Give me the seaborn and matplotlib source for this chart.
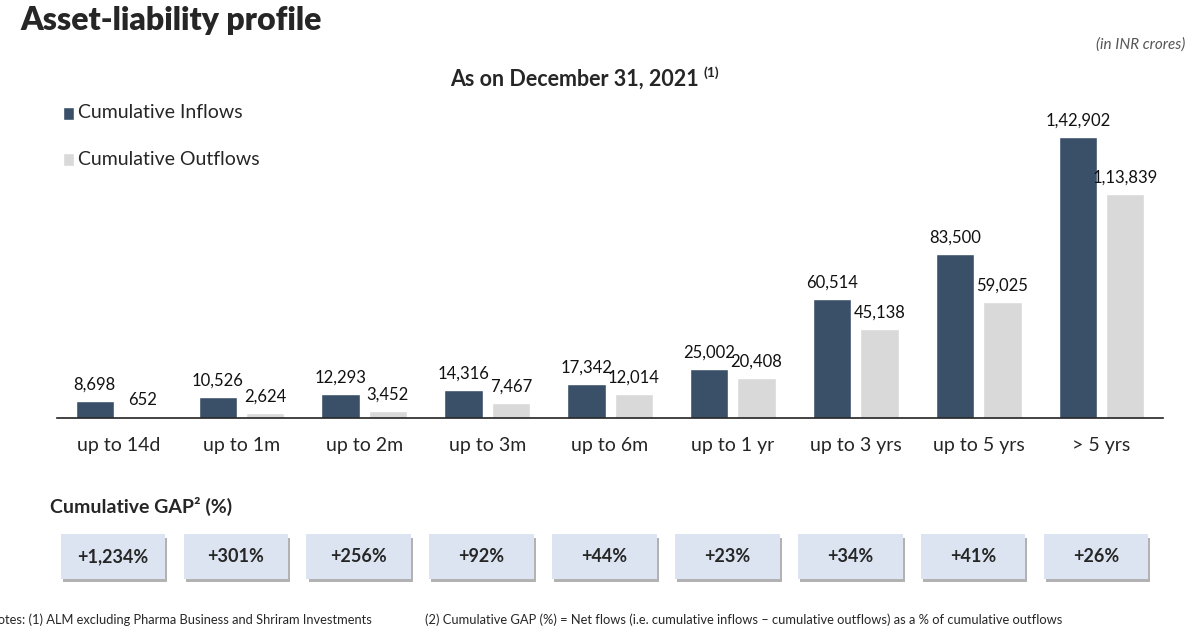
import numpy as np
import pandas as pd
import matplotlib.pyplot as plt
import matplotlib.patheffects as pe
from matplotlib.patches import Rectangle
import seaborn as sns


# data (INR crores)
buckets = ["up to 14d", "up to 1m", "up to 2m", "up to 3m", "up to 6m",
           "up to 1 yr", "up to 3 yrs", "up to 5 yrs", "> 5 yrs"]
inflows = [8698, 10526, 12293, 14316, 17342, 25002, 60514, 83500, 142902]
outflows = [652, 2624, 3452, 7467, 12014, 20408, 45138, 59025, 113839]
gap_labels = ["+1,234%", "+301%", "+256%", "+92%", "+44%",
              "+23%", "+34%", "+41%", "+26%"]


# indian style grouping -> 1,42,902
def inr(n):
    s = str(int(n))
    if len(s) <= 3:
        return s
    head, tail = s[:-3], s[-3:]
    parts = []
    while len(head) > 2:
        parts.insert(0, head[-2:])
        head = head[:-2]
    if head:
        parts.insert(0, head)
    return ",".join(parts) + "," + tail


df = pd.DataFrame({"bucket": buckets * 2,
                   "value": inflows + outflows,
                   "series": ["Cumulative Inflows"] * 9 + ["Cumulative Outflows"] * 9})

sns.set_style("white")
plt.rcParams["font.family"] = ["Lato", "DejaVu Sans"]

fig = plt.figure(figsize=(12, 6.29), dpi=100)
ax = fig.add_axes([0.0475, 0.3355, 0.9217, 0.5056])

sns.barplot(data=df, x="bucket", y="value", hue="series",
            palette=["#3a5068", "#d9d9d9"], width=0.77, gap=0.19,
            saturation=1, ax=ax, legend=False)

for cont in ax.containers:
    ax.bar_label(cont, labels=[inr(v) for v in cont.datavalues],
                 padding=6, fontsize=12, color="#111111")

ax.set_xlim(-0.5, 8.5)
ax.set_ylim(0, 161700)
ax.set_xlabel("")
ax.set_ylabel("")
ax.set_yticks([])
ax.tick_params(axis="x", length=0, labelsize=14, pad=14)
for side in ["top", "right", "left"]:
    ax.spines[side].set_visible(False)
ax.spines["bottom"].set_color("#222222")
ax.spines["bottom"].set_linewidth(1.2)

# legend squares
fig.patches.append(Rectangle((0.0525, 0.810), 0.0095, 0.020, facecolor="#3a5068",
                             transform=fig.transFigure, figure=fig))
fig.patches.append(Rectangle((0.0525, 0.736), 0.0095, 0.020, facecolor="#d9d9d9",
                             transform=fig.transFigure, figure=fig))
fig.text(0.065, 0.821, "Cumulative Inflows", fontsize=14, va="center")
fig.text(0.065, 0.747, "Cumulative Outflows", fontsize=14, va="center")

# titles
fig.text(0.017, 0.968, "Asset-liability profile", fontsize=23, fontweight="heavy", va="center")
fig.text(0.988, 0.929, "(in INR crores)", fontsize=11, style="italic",
         color="#555555", ha="right", va="center")
fig.text(0.375, 0.874, "As on December 31, 2021", fontsize=15.5,
         fontweight="bold", ha="left", va="center")
fig.text(0.586, 0.885, "(1)", fontsize=10, fontweight="bold", ha="left", va="center")

# cumulative gap boxes
fig.text(0.042, 0.194, "Cumulative GAP\u00b2 (%)", fontsize=14, fontweight="bold", va="center")
axg = fig.add_axes([0.0475, 0.075, 0.9217, 0.08])
axg.set_xlim(-0.5, 8.5)
axg.set_ylim(0, 1)
axg.axis("off")
for i, lab in enumerate(gap_labels):
    r = Rectangle((i - 0.47, 0.05), 0.85, 0.9, facecolor="#dbe4f0", edgecolor="none",
                  path_effects=[pe.SimplePatchShadow(offset=(1.5, -3), shadow_rgbFace="#7f7f7f",
                                                     alpha=0.6), pe.Normal()])
    axg.add_patch(r)
    axg.text(i - 0.045, 0.5, lab, fontsize=13, fontweight="bold", ha="center", va="center")

# footnotes (left one is cut at the edge as in the original slide)
fig.text(-0.01, 0.014, "Notes: (1) ALM excluding Pharma Business and Shriram Investments",
         fontsize=9.3, va="center")
fig.text(0.354, 0.014, "(2) Cumulative GAP (%) = Net flows (i.e. cumulative inflows \u2013 "
         "cumulative outflows) as a % of cumulative outflows", fontsize=9.3, va="center")

fig.savefig("out.png", dpi=100)
